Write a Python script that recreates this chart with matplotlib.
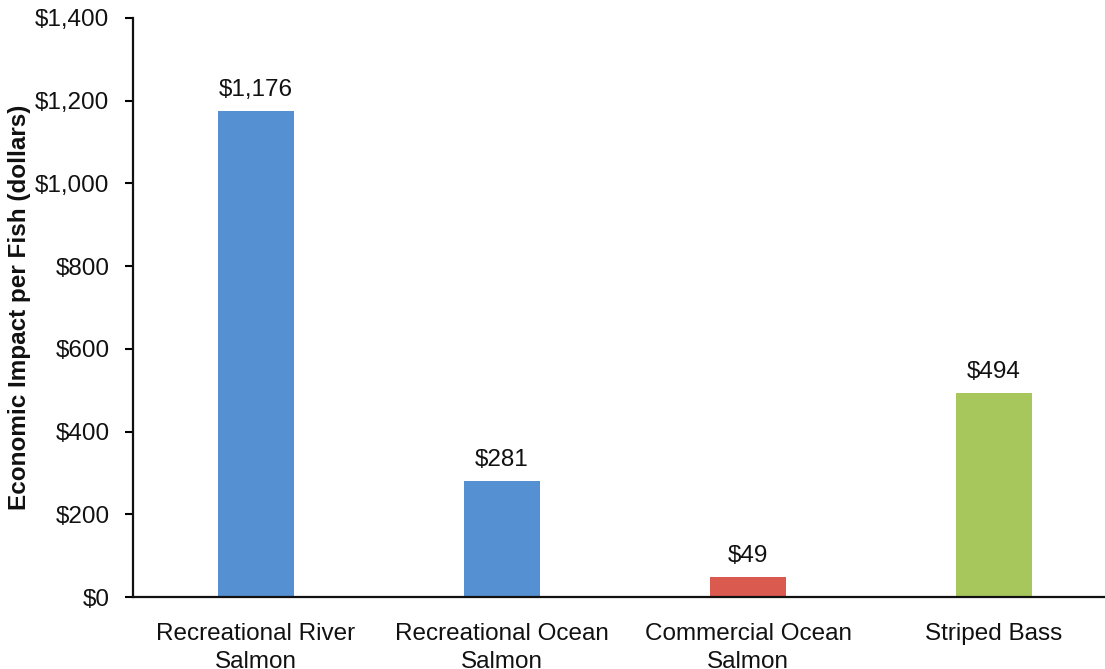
import matplotlib
matplotlib.use("Agg")
import matplotlib.pyplot as plt
from matplotlib.ticker import FuncFormatter

categories = ["Recreational River\nSalmon", "Recreational Ocean\nSalmon",
              "Commercial Ocean\nSalmon", "Striped Bass"]
values = [1176, 281, 49, 494]
colors = ["#5591D2", "#5591D2", "#DB5A50", "#A7C75C"]
yticks = [0, 200, 400, 600, 800, 1000, 1200, 1400]

plt.rcParams['font.family'] = ['Liberation Sans', 'DejaVu Sans']

fig = plt.figure(figsize=(11.05, 6.69), dpi=100)
ax = fig.add_axes([0.1204, 0.1076, 0.8905, 0.8655])

x = list(range(len(categories)))
bars = ax.bar(x, values, width=0.31, color=colors, zorder=2)
for xi, v in zip(x, values):
    ax.annotate(f"${v:,}", (xi, v), xytext=(0, 7), textcoords="offset points",
                ha="center", va="bottom", fontsize=17.5, color="#111111")

ax.set_xlim(-0.5, 3.5)
ax.set_ylim(0, 1400)
ax.set_yticks(yticks)
ax.yaxis.set_major_formatter(FuncFormatter(lambda v, p: f"${int(v):,}"))
ax.set_xticks(x)
ax.set_xticklabels(categories, fontsize=17.5, color="#111111", linespacing=1.3)
ax.tick_params(axis="x", length=0, pad=19)
ax.tick_params(axis="y", length=6, width=1.5, labelsize=17.5, labelcolor="#111111", pad=11, direction="out")
for s in ["top", "right"]:
    ax.spines[s].set_visible(False)
for s in ["left", "bottom"]:
    ax.spines[s].set_linewidth(1.6)
    ax.spines[s].set_color("#111111")
ax.set_ylabel("Economic Impact per Fish (dollars)", fontsize=17.5, fontweight="bold",
              color="#111111", labelpad=3)

fig.savefig("out.png", dpi=100)
